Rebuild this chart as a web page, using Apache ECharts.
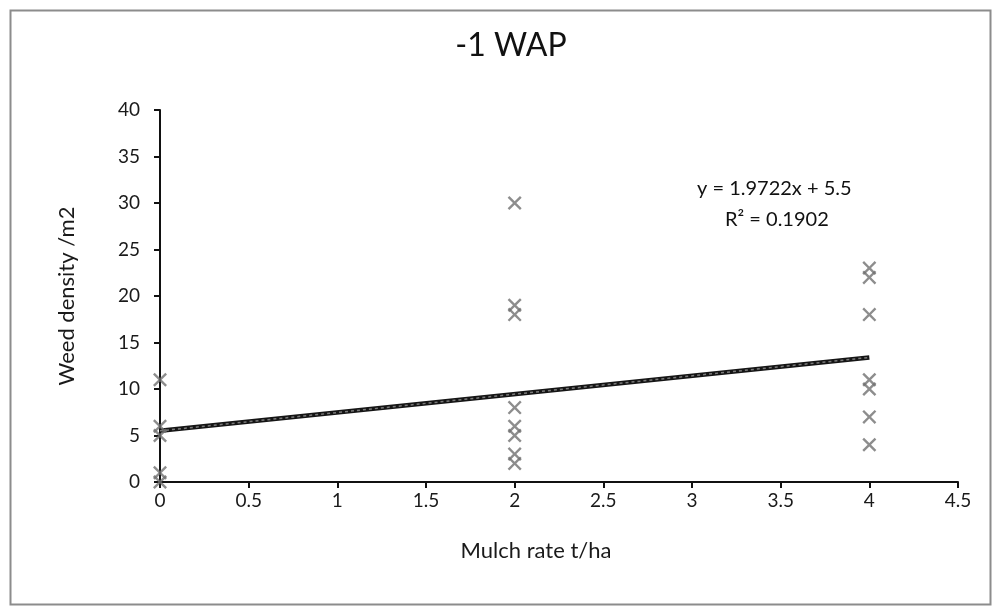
<!DOCTYPE html>
<html>
<head>
<meta charset="utf-8">
<script src="https://cdn.jsdelivr.net/npm/echarts@6/dist/echarts.min.js"></script>
<style>
	html, body { margin: 0; padding: 0; background: #fff; }
	#main { width: 995px; height: 607px; }
</style>
</head>
<body>
<div id="main"></div>
<script>
	// weed counts, grouped by mulch rate
	var rate0 = [11, 6, 5, 1, 0];
	var rate2 = [30, 19, 18, 8, 6, 5, 3, 2];
	var rate4 = [23, 22, 18, 11, 10, 7, 4];
	var mulchRates = [0, 2, 4];
	// trendline end points, from the printed equation
	var trendX = [0, 4];
	var trendY = [5.5, 13.39];
	var eqText = 'y = 1.9722x + 5.5';
	var r2Text = 'R\u00b2 = 0.1902';

	var font = 'Lato, "Open Sans", sans-serif';
	var cross = 'path://M0,1.2L1.2,0L5,3.8L8.8,0L10,1.2L6.2,5L10,8.8L8.8,10L5,6.2L1.2,10L0,8.8L3.8,5Z';

	var points = [];
	[rate0, rate2, rate4].forEach(function(group, i){
		group.forEach(function(v){
			points.push([mulchRates[i], v]);
		});
	});
	var trend = trendX.map(function(x, i){ return [x, trendY[i]]; });

	var myChart = echarts.init(document.getElementById('main'));
	myChart.setOption({
		animation: false,
		textStyle: { fontFamily: font },
		title: {
			text: '-1 WAP',
			left: 506, top: 25,
			textAlign: 'center',
			textStyle: { fontFamily: font, fontSize: 32, fontWeight: 'normal', color: '#111' }
		},
		grid: { left: 160, right: 37, top: 110, bottom: 125 },
		xAxis: {
			type: 'value', min: 0, max: 4.5, interval: 0.5,
			name: 'Mulch rate t/ha', nameLocation: 'middle', nameGap: 58,
			nameTextStyle: { fontFamily: font, fontSize: 22, color: '#1a1a1a', padding: [0, 46, 0, 0] },
			axisLine: { lineStyle: { color: '#111', width: 2 } },
			axisTick: { show: true, length: 6, lineStyle: { color: '#111', width: 2 } },
			axisLabel: { fontFamily: font, fontSize: 19, color: '#1a1a1a', margin: 9 },
			splitLine: { show: false }
		},
		yAxis: {
			type: 'value', min: 0, max: 40, interval: 5,
			name: 'Weed density /m2', nameLocation: 'middle', nameGap: 82,
			nameTextStyle: { fontFamily: font, fontSize: 22, color: '#1a1a1a' },
			axisLine: { show: true, lineStyle: { color: '#111', width: 2 } },
			axisTick: { show: true, length: 6, lineStyle: { color: '#111', width: 2 } },
			axisLabel: { fontFamily: font, fontSize: 19, color: '#1a1a1a', margin: 20 },
			splitLine: { show: false }
		},
		series: [
			{
				type: 'line', data: trend, symbol: 'none', z: 2,
				lineStyle: { color: '#151515', width: 4.5 }
			},
			{
				type: 'line', data: trend, symbol: 'none', z: 3,
				lineStyle: { color: '#7a7a7a', width: 1.5, type: [3, 3] }
			},
			{
				type: 'scatter', data: points, symbol: cross, symbolSize: 14, z: 4,
				itemStyle: { color: '#707070' }
			}
		],
		graphic: [
			{
				type: 'rect', left: 8, top: 8, silent: true,
				shape: { width: 980, height: 594 },
				style: { fill: 'none', stroke: '#8c8c8c', lineWidth: 2 }
			},
			{
				type: 'text', left: 697, top: 179,
				style: { text: eqText, font: '20px ' + font, fill: '#111' }
			},
			{
				type: 'text', left: 725, top: 210,
				style: { text: r2Text, font: '20px ' + font, fill: '#111' }
			}
		]
	});
</script>
</body>
</html>
